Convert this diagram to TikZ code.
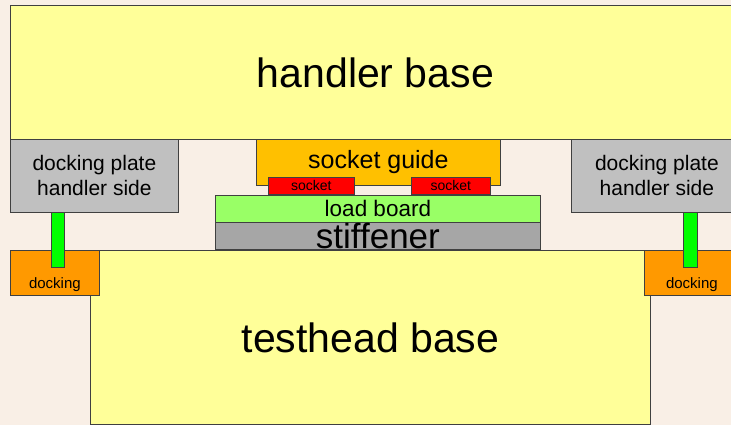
\documentclass[tikz,border=0pt]{standalone}
\usepackage{fontspec}
\setmainfont{Liberation Sans}
\usepackage[]{xcolor}
\usepackage{tikz}
\usetikzlibrary{positioning}

\definecolor{paper}{HTML}{F9EFE6}
\definecolor{baseyellow}{HTML}{FFFF99}
\definecolor{plategray}{HTML}{C0C0C0}
\definecolor{guideamber}{HTML}{FFC000}
\definecolor{boardgreen}{HTML}{99FF66}
\definecolor{stiffgray}{HTML}{A6A6A6}
\definecolor{rodgreen}{HTML}{00FF00}
\definecolor{dockorange}{HTML}{FF9900}
\definecolor{edge}{HTML}{404040}

\begin{document}
\begin{tikzpicture}[x=1pt,y=-1pt,
    part/.style={draw=edge,line width=.8pt,inner sep=0pt,anchor=north west},
    huge/.style={font=\fontsize{41}{49}\selectfont},
    big/.style={font=\fontsize{25}{30}\selectfont},
    mid/.style={font=\fontsize{21}{25}\selectfont,align=center},
    tiny/.style={font=\fontsize{14}{17}\selectfont}]
    \fill[paper] (0,0) rectangle (731,425);
    \useasboundingbox (0,0) rectangle (731,425);
    \clip (0,0) rectangle (731,425);
    % bases
    \node (handler) [part,fill=baseyellow,minimum width=730,minimum height=134,huge] at (10,5) {handler base};
    \node (testhead) [part,fill=baseyellow,minimum width=560,minimum height=174,huge] at (90,250) {testhead base};
    % docking plates, handler side
    \node (plateL) [part,fill=plategray,minimum width=168,minimum height=73,mid] at (10,139) {docking plate\\handler side};
    \node (plateR) [part,fill=plategray,minimum width=171,minimum height=73,mid] at (571,139) {docking plate\\handler side};
    % docking on the testhead
    \node (dockL) [part,fill=dockorange,minimum width=89,minimum height=45] at (10,250) {};
    \node (dockR) [part,fill=dockorange,minimum width=95,minimum height=45] at (644,250) {};
    \node (dockLtext) [tiny,font=\fontsize{15}{18}\selectfont,inner sep=0pt,above=4pt of dockL.south] {docking};
    \node (dockRtext) [tiny,font=\fontsize{15}{18}\selectfont,inner sep=0pt,above=4pt of dockR.south] {docking};
    % rods
    \node (rodL) [part,fill=rodgreen,minimum width=13,minimum height=55] at (51,212) {};
    \node (rodR) [part,fill=rodgreen,minimum width=14,minimum height=55] at (683,212) {};
    % socket stack
    \node (guide) [part,fill=guideamber,minimum width=244,minimum height=46,big] at (256,139) {socket guide};
    \node (sockL) [part,fill=red,minimum width=86,minimum height=17,tiny] at (268,177) {socket};
    \node (sockR) [part,fill=red,minimum width=79,minimum height=17,tiny] at (411,177) {socket};
    \node (load) [part,fill=boardgreen,minimum width=325,minimum height=27,font=\fontsize{22.5}{27}\selectfont] at (215,195) {load board};
    \node (stiff) [part,fill=stiffgray,minimum width=325,minimum height=27,font=\fontsize{35}{42}\selectfont] at (215,222) {stiffener};
\end{tikzpicture}
\end{document}
